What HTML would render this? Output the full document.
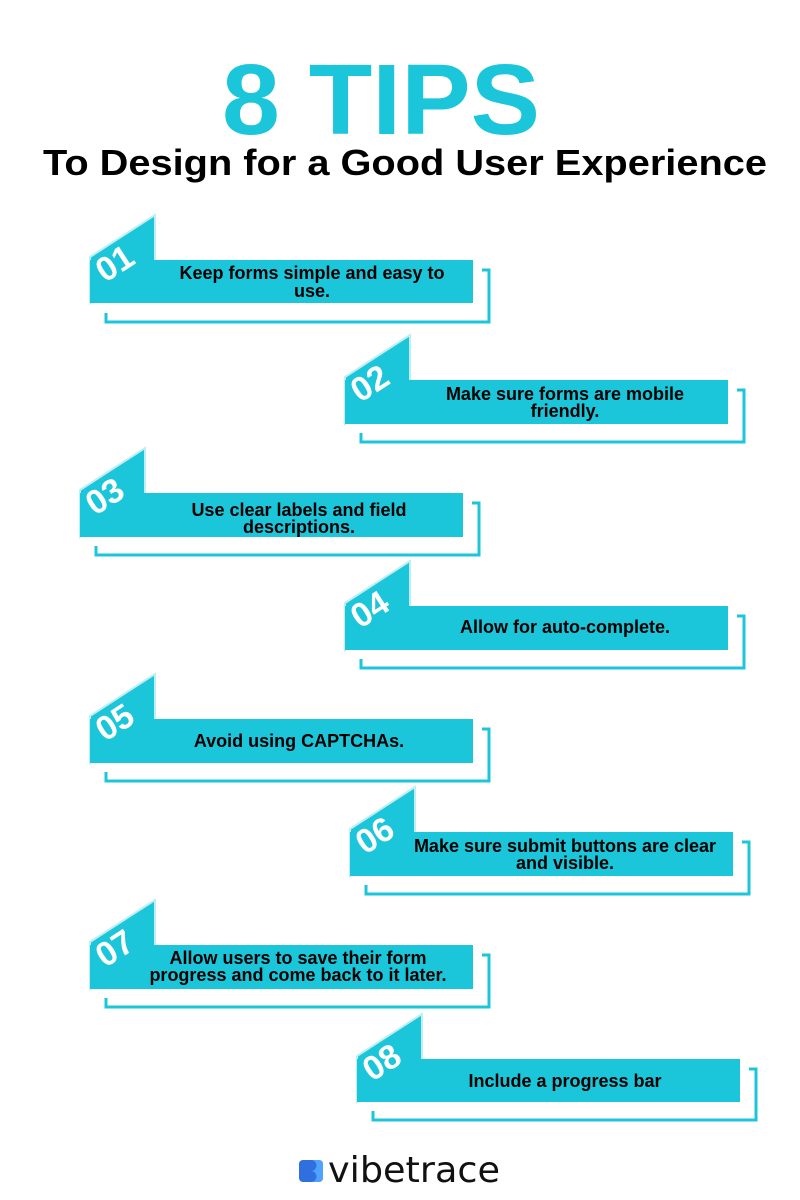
<html><head><style>body{margin:0;background:#fff}</style></head><body>
<svg width="800" height="1200" xmlns="http://www.w3.org/2000/svg" font-family="Liberation Sans, sans-serif">
<text x="381" y="134" text-anchor="middle" font-size="100" font-weight="bold" fill="#1bc6da" textLength="318" lengthAdjust="spacingAndGlyphs">8 TIPS</text>
<text x="405" y="175" text-anchor="middle" font-size="36" font-weight="bold" fill="#000" textLength="724" lengthAdjust="spacingAndGlyphs">To Design for a Good User Experience</text>
<g fill="none" stroke="#1bc6da" stroke-width="3">
<path d="M106 313V322H489V270H482"/>
<path d="M361 433V442H744V390H737"/>
<path d="M96 546V555H479V503H472"/>
<path d="M361 659V668H744V616H737"/>
<path d="M106 772V781H489V729H482"/>
<path d="M366 885V894H749V842H742"/>
<path d="M106 998V1007H489V955H482"/>
<path d="M373 1111V1120H756V1069H749"/>
</g>
<g fill="#1bc6da" stroke="#bfeef4" stroke-width="2">
<polygon points="90,257 155,215 155,262 90,303"/><rect x="90" y="260" width="383" height="43" stroke="none"/>
<polygon points="345,377 410,335 410,382 345,424"/><rect x="345" y="380" width="383" height="44" stroke="none"/>
<polygon points="80,490 145,448 145,495 80,537"/><rect x="80" y="493" width="383" height="44" stroke="none"/>
<polygon points="345,603 410,561 410,608 345,650"/><rect x="345" y="606" width="383" height="44" stroke="none"/>
<polygon points="90,716 155,674 155,721 90,763"/><rect x="90" y="719" width="383" height="44" stroke="none"/>
<polygon points="350,829 415,787 415,834 350,876"/><rect x="350" y="832" width="383" height="44" stroke="none"/>
<polygon points="90,942 155,900 155,947 90,989"/><rect x="90" y="945" width="383" height="44" stroke="none"/>
<polygon points="357,1056 422,1014 422,1061 357,1102"/><rect x="357" y="1059" width="383" height="43" stroke="none"/>
</g>
<g fill="#fff" font-size="34" font-weight="bold" text-anchor="middle">
<text transform="translate(121,273) rotate(-33)">01</text>
<text transform="translate(376,393) rotate(-33)">02</text>
<text transform="translate(111,506) rotate(-33)">03</text>
<text transform="translate(376,619) rotate(-33)">04</text>
<text transform="translate(121,732) rotate(-33)">05</text>
<text transform="translate(381,845) rotate(-33)">06</text>
<text transform="translate(121,958) rotate(-33)">07</text>
<text transform="translate(388,1072) rotate(-33)">08</text>
</g>
<g fill="#000" font-size="18" font-weight="bold" text-anchor="middle">
<text x="312" y="279">Keep forms simple and easy to</text><text x="312" y="297">use.</text>
<text x="565" y="400">Make sure forms are mobile</text><text x="565" y="417">friendly.</text>
<text x="299" y="516">Use clear labels and field</text><text x="299" y="533">descriptions.</text>
<text x="565" y="633">Allow for auto-complete.</text>
<text x="299" y="747">Avoid using CAPTCHAs.</text>
<text x="565" y="852">Make sure submit buttons are clear</text><text x="565" y="869">and visible.</text>
<text x="298" y="964">Allow users to save their form</text><text x="298" y="981">progress and come back to it later.</text>
<text x="565" y="1087">Include a progress bar</text>
</g>
<rect x="299" y="1160" width="24" height="22" rx="4" fill="#2f6fe0"/>
<path d="M311 1160h8a4 4 0 0 1 4 4v14a4 4 0 0 1-4 4h-8a5 5 0 0 0 0-11a5 5 0 0 0 0-11z" fill="#4fa3ff"/>
<text x="328" y="1182" font-size="36" fill="#111" font-family="DejaVu Sans, sans-serif" textLength="172" lengthAdjust="spacingAndGlyphs">vibetrace</text>
</svg>
</body></html>
